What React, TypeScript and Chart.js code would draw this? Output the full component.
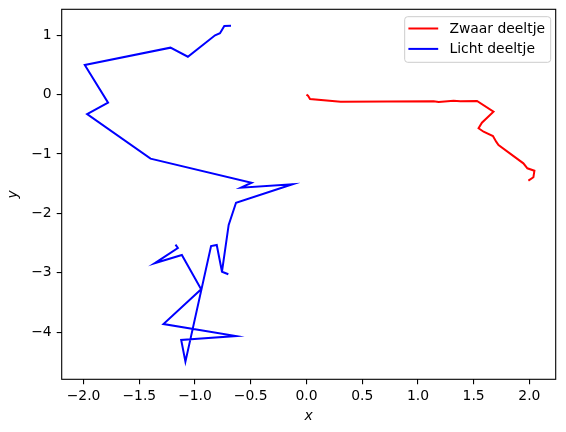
import { useEffect, useRef } from "react";
import { Chart, registerables } from "chart.js";

Chart.register(...registerables);

// zwaar deeltje (red)
const zwaarX = [0, 0.014, 0.032, 0.307, 1.141, 1.186, 1.32, 1.38, 1.53, 1.678, 1.574, 1.544, 1.589, 1.673, 1.702, 1.723, 1.946, 1.982, 2.045, 2.036, 1.991];
const zwaarY = [0, -0.019, -0.074, -0.12, -0.113, -0.125, -0.103, -0.113, -0.108, -0.288, -0.473, -0.567, -0.625, -0.697, -0.793, -0.848, -1.157, -1.241, -1.281, -1.392, -1.449];

// licht deeltje (blue)
const lichtX = [-0.677, -0.737, -0.776, -0.82, -1.064, -1.22, -1.989, -1.78, -1.968, -1.399, -0.492, -0.588, -0.125, -0.632, -0.698, -0.758, -0.701, -0.758, -0.805, -0.856, -1.086, -1.124, -0.975, -0.632, -1.283, -0.945, -1.118, -1.363, -1.154, -1.175];
const lichtY = [1.16, 1.155, 1.032, 0.998, 0.638, 0.79, 0.498, -0.136, -0.327, -1.079, -1.483, -1.567, -1.51, -1.82, -2.195, -2.981, -3.025, -2.981, -2.532, -2.549, -4.497, -4.131, -4.109, -4.064, -3.862, -3.278, -2.7, -2.84, -2.582, -2.527];

const xTicks = [-2, -1.5, -1, -0.5, 0, 0.5, 1, 1.5, 2];
const yTicks = [-4, -3, -2, -1, 0, 1];

const FONT = "DejaVu Sans";
const minus = (s: string) => s.replace("-", "\u2212");

const frameLegend = {
  id: "frameLegend",
  afterDraw(chart: any) {
    const { ctx, chartArea: a } = chart;
    ctx.save();
    ctx.strokeStyle = "#000";
    ctx.lineWidth = 1.1;
    ctx.strokeRect(a.left, a.top, a.right - a.left, a.bottom - a.top);

    // legend box, upper right
    const bw = 146, bh = 45.6;
    const bx = a.right - 5 - bw, by = a.top + 7.4;
    ctx.beginPath();
    ctx.roundRect(bx, by, bw, bh, 3);
    ctx.fillStyle = "rgba(255,255,255,0.8)";
    ctx.fill();
    ctx.strokeStyle = "#cccccc";
    ctx.lineWidth = 1;
    ctx.stroke();
    ctx.font = `13.9px '${FONT}'`;
    ctx.textBaseline = "middle";
    ctx.textAlign = "left";
    chart.data.datasets.forEach((ds: any, i: number) => {
      const y = by + 11.8 + i * 20.4;
      ctx.beginPath();
      ctx.moveTo(bx + 3.7, y);
      ctx.lineTo(bx + 33.5, y);
      ctx.strokeStyle = ds.borderColor;
      ctx.lineWidth = 2;
      ctx.stroke();
      ctx.fillStyle = "#000";
      ctx.fillText(ds.label, bx + 44.7, y + 0.5);
    });
    ctx.restore();
  },
};

export default function App() {
  const canvasRef = useRef<HTMLCanvasElement>(null);

  useEffect(() => {
    if (!canvasRef.current) return;
    const chart = new Chart(canvasRef.current, {
      type: "scatter",
      data: {
        datasets: [
          {
            label: "Zwaar deeltje",
            data: zwaarX.map((x, i) => ({ x, y: zwaarY[i] })),
            borderColor: "#ff0000",
            backgroundColor: "#ff0000",
            showLine: true,
            borderWidth: 2,
            pointRadius: 0,
            tension: 0,
          },
          {
            label: "Licht deeltje",
            data: lichtX.map((x, i) => ({ x, y: lichtY[i] })),
            borderColor: "#0000ff",
            backgroundColor: "#0000ff",
            showLine: true,
            borderWidth: 2,
            pointRadius: 0,
            tension: 0,
          },
        ],
      },
      options: {
        responsive: false,
        animation: false,
        devicePixelRatio: 1,
        layout: { padding: { top: 9.3, right: 10.3, left: 0, bottom: 0 } },
        plugins: { legend: { display: false }, tooltip: { enabled: false } },
        scales: {
          x: {
            type: "linear",
            min: -2.196,
            max: 2.236,
            afterBuildTicks: (s: any) => { s.ticks = xTicks.map((v) => ({ value: v })); },
            afterFit: (s: any) => {
              s.height = 52.7;
              s.paddingLeft = 0;
              s.paddingRight = 0;
            },
            border: { display: false },
            grid: { drawOnChartArea: false, drawTicks: true, tickLength: 5, color: "#000", lineWidth: 1.1 },
            ticks: {
              color: "#000",
              padding: 4,
              maxRotation: 0,
              font: { family: FONT, size: 13.9 },
              callback: (v: any) => minus(Number(v).toFixed(1)),
            },
            title: {
              display: true,
              text: "x",
              color: "#000",
              font: { family: FONT, size: 13.9, style: "italic" },
              padding: { top: 0, bottom: 7 },
            },
          },
          y: {
            type: "linear",
            min: -4.793,
            max: 1.436,
            afterBuildTicks: (s: any) => { s.ticks = yTicks.map((v) => ({ value: v })); },
            afterFit: (s: any) => {
              s.width = 61.7;
              s.paddingTop = 0;
              s.paddingBottom = 0;
            },
            border: { display: false },
            grid: { drawOnChartArea: false, drawTicks: true, tickLength: 5, color: "#000", lineWidth: 1.1 },
            ticks: {
              color: "#000",
              padding: 5,
              font: { family: FONT, size: 13.9 },
              callback: (v: any) => minus(String(Math.round(Number(v)))),
            },
            title: {
              display: true,
              text: "y",
              color: "#000",
              font: { family: FONT, size: 13.9, style: "italic" },
              padding: { top: 5, bottom: 0 },
            },
          },
        },
      },
      plugins: [frameLegend],
    });
    return () => chart.destroy();
  }, []);

  return (
    <div style={{ position: "fixed", left: 0, top: 0, width: 566, height: 432, background: "#fff" }}>
      <canvas ref={canvasRef} width={566} height={432}></canvas>
    </div>
  );
}
